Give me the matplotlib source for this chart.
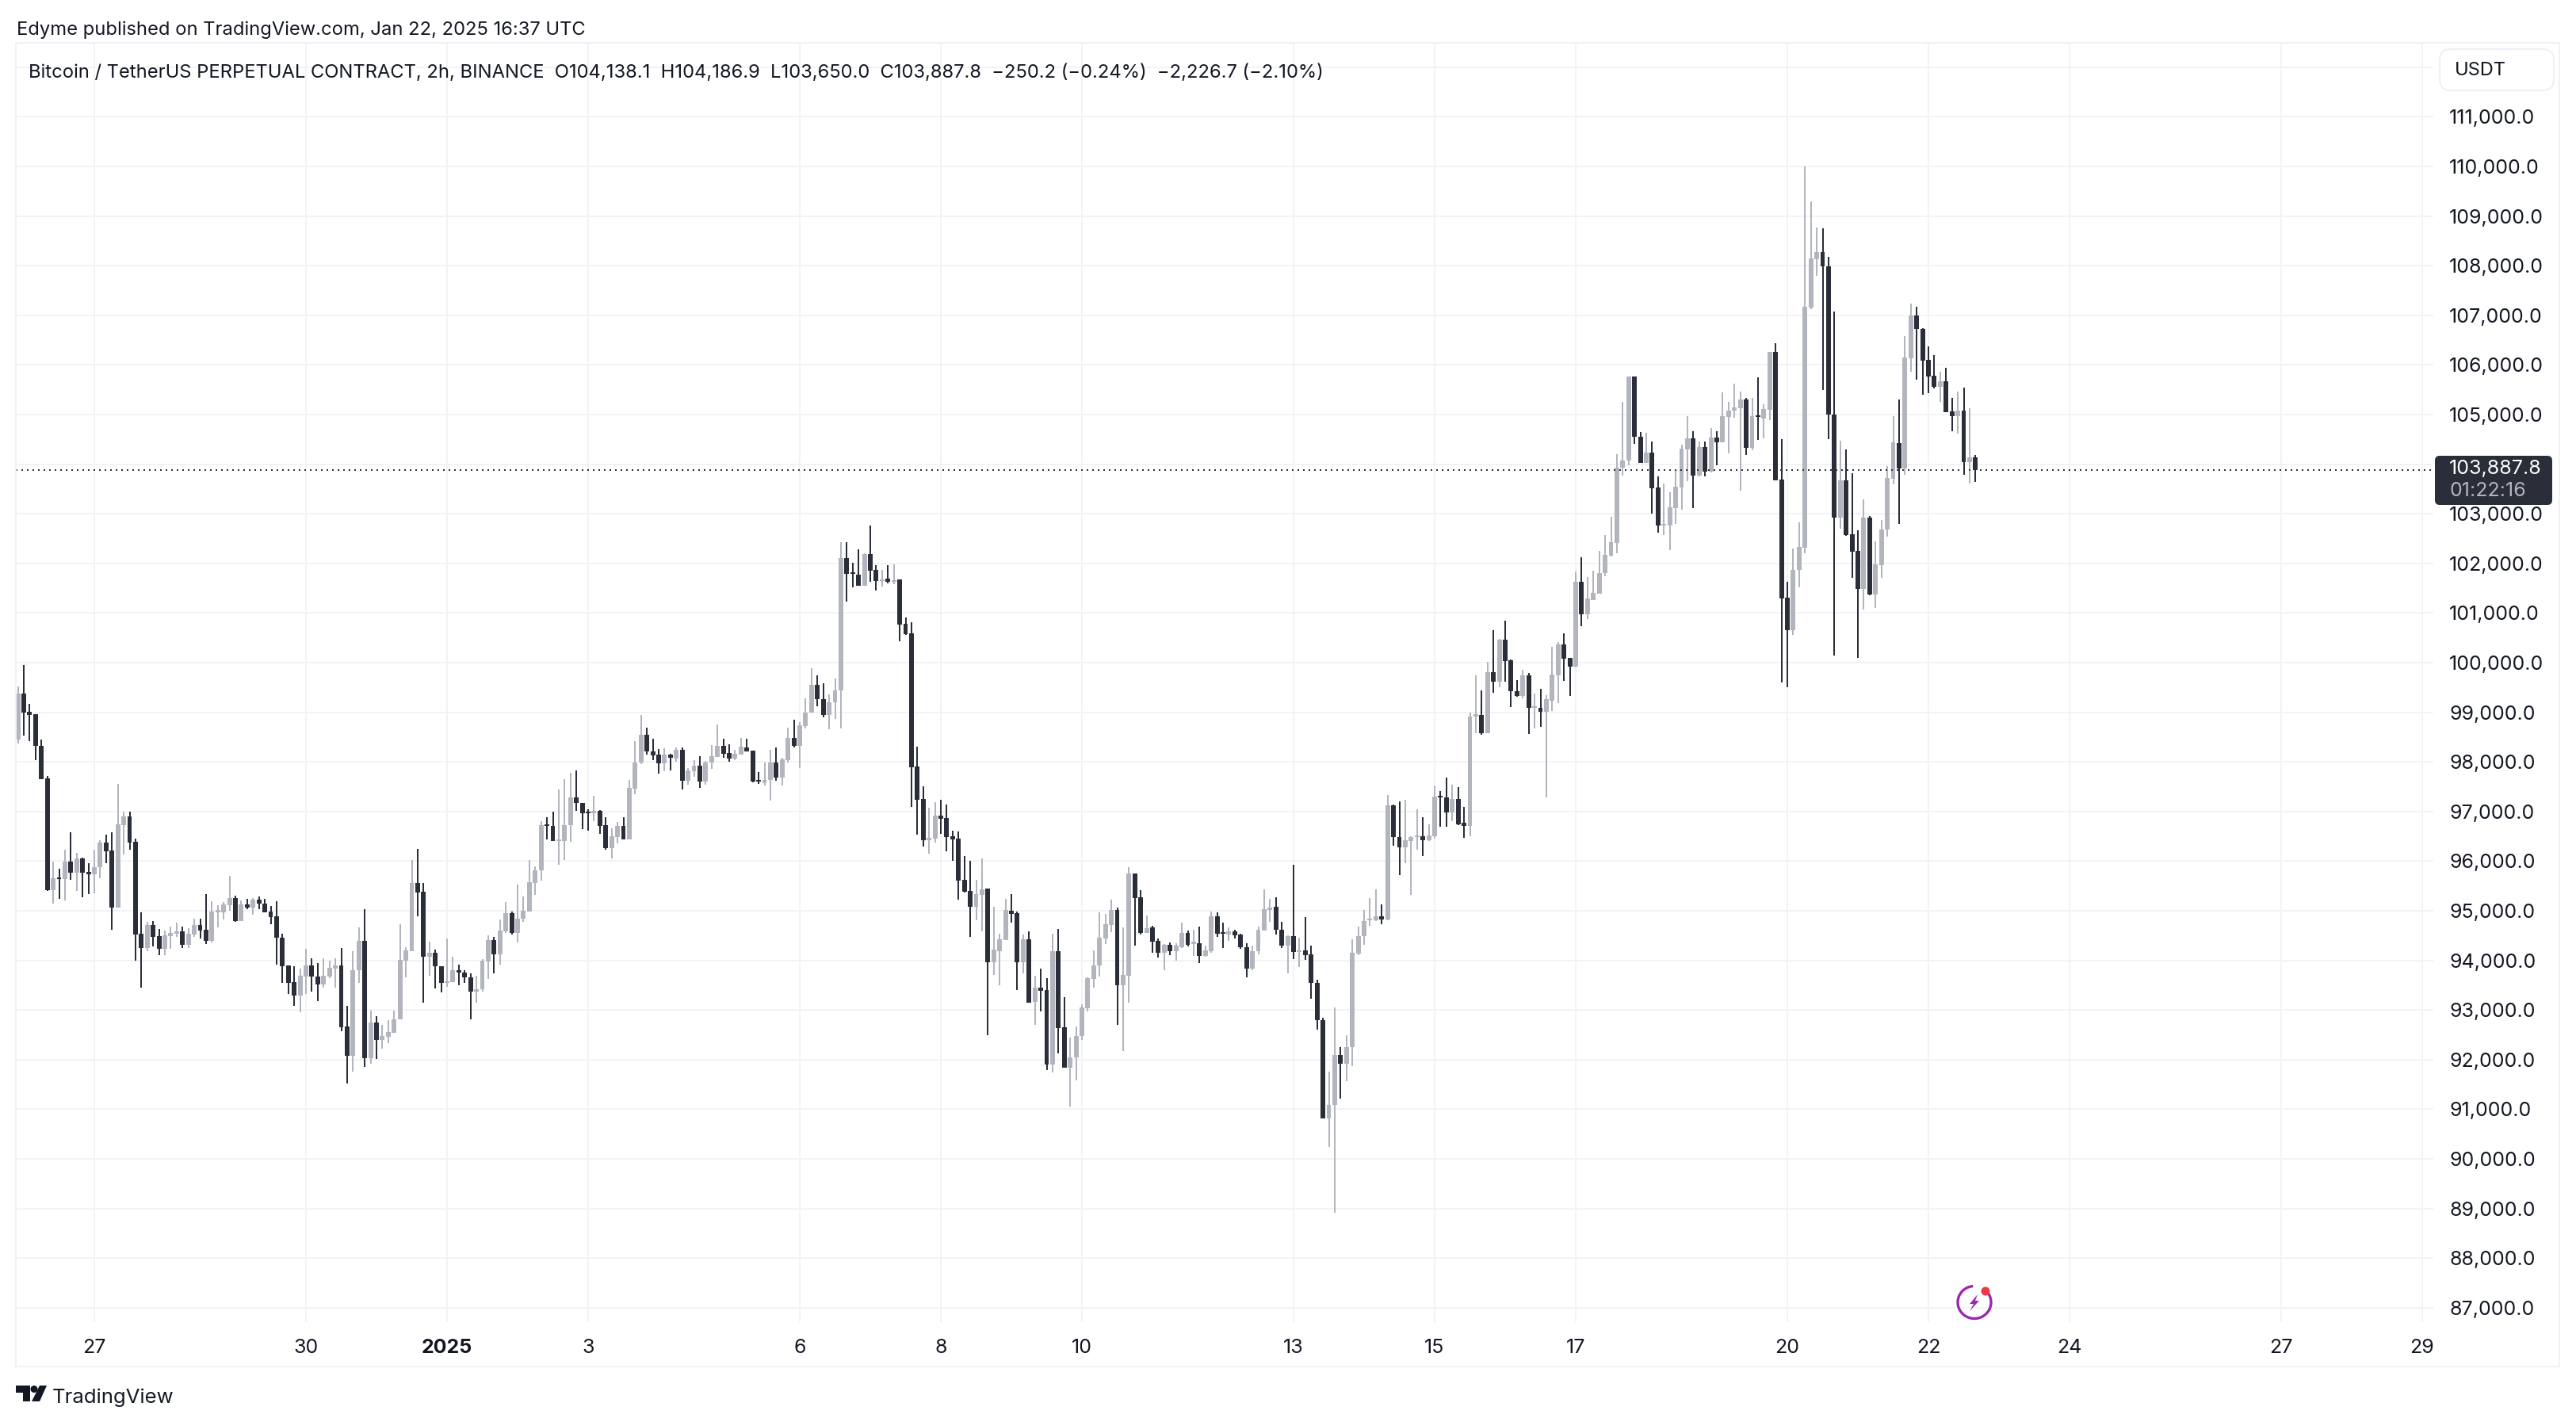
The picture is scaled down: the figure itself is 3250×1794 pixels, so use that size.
import matplotlib
matplotlib.use("Agg")
import matplotlib.pyplot as plt
import matplotlib.dates as mdates
from matplotlib.patches import Rectangle, FancyBboxPatch, Polygon, Circle, Arc
import numpy as np
import pandas as pd

plt.rcParams['font.family'] = ['Inter', 'DejaVu Sans']

# 2h candles, first one is Dec 25 22:00
opens = [
    98455, 99377, 99005, 98956, 98327, 97667, 95408, 95676, 95640, 95994,
    95762, 96055, 95786, 95737, 95872, 96379, 96220, 95066, 96727, 96904,
    96391, 94540, 94253, 94717, 94491, 94241, 94491, 94540, 94589, 94320,
    94528, 94717, 94620, 94400, 94974, 94974, 95115, 95261, 94797, 95127,
    95066, 95224, 95139, 94986, 94895, 94461, 93905, 93569, 93289, 93673,
    93905, 93673, 93521, 93673, 93838, 93905, 92660, 92073, 93795, 94400,
    92024, 92745, 92403, 92464, 92544, 92806, 93997, 94192, 95554, 95383,
    94070, 94149, 93887, 93539, 93570, 93808, 93753, 93661, 93368, 93417,
    93985, 94412, 94119, 94589, 94956, 94559, 94833, 94986, 95566, 95811,
    96739, 96714, 96409, 96409, 96721, 97288, 97166, 96977, 96959, 97014,
    96721, 96262, 96489, 96715, 96440, 97466, 97980, 98542, 98216, 98143,
    97971, 98143, 98061, 98240, 97613, 97809, 97923, 97597, 97980, 98102,
    98330, 98175, 98069, 98151, 98297, 98224, 97629, 97572, 97637, 97980,
    97678, 98029, 98477, 98322, 98721, 98998, 99553, 99267, 98941, 99202,
    99447, 102104, 101818, 101769, 101549, 102185, 101867, 101639, 101688, 101623,
    101672, 100775, 100588, 97906, 97246, 96415, 96456, 96912, 96863, 96496,
    96447, 95616, 95396, 95078, 95315, 95445, 93962, 94190, 94402, 95005,
    94956, 93962, 94418, 93163, 93456, 93399, 91900, 94182, 92649, 91835,
    92038, 92478, 93033, 93619, 93904, 94434, 94720, 95021, 93497, 93685,
    95747, 95265, 94549, 94662, 94385, 94149, 94312, 94182, 94271, 94557,
    94337, 94353, 94084, 94182, 94883, 94565, 94524, 94581, 94516, 94271,
    93839, 94182, 94597, 95019, 95080, 94613, 94293, 94492, 94163, 94206,
    94120, 93549, 92797, 90815, 91084, 92096, 91923, 92260, 94137, 94483,
    94803, 94803, 94881, 94820, 97121, 96490, 96274, 96412, 96481, 96499,
    96421, 96499, 97311, 97277, 96974, 97251, 96767, 96706, 98912, 98938,
    98575, 99803, 99613, 100460, 100045, 99431, 99327, 99751, 99085, 99094,
    99007, 99241, 99751, 100374, 100088, 99915, 101637, 100979, 101269, 101391,
    101798, 102164, 102408, 103930, 104076, 105769, 104556, 104019, 104231, 103523,
    102758, 102766, 103116, 103523, 104304, 104516, 103767, 104353, 103849, 104532,
    104434, 104947, 105077, 105134, 105297, 104336, 104971, 104914, 105101, 106257,
    103686, 101310, 100659, 101863, 102319, 107152, 108137, 108267, 107982, 104996,
    102921, 103669, 102587, 102254, 101489, 102921, 101367, 101960, 102677, 103710,
    104418, 103913, 106135, 106989, 106729, 106110, 105777, 105565, 105671, 105061,
    104963, 105085, 104036, 104138.1,
]
closes = [
    99377, 98998, 98950, 98315, 97655, 95408, 95658, 95640, 95994, 95762,
    96055, 95768, 95737, 95884, 96379, 96201, 95060, 96745, 96904, 96379,
    94528, 94253, 94717, 94479, 94241, 94510, 94559, 94589, 94320, 94540,
    94717, 94607, 94400, 94986, 95011, 95127, 95261, 94797, 95127, 95066,
    95231, 95139, 94974, 94876, 94449, 93887, 93551, 93289, 93692, 93905,
    93667, 93521, 93692, 93856, 93905, 92647, 92073, 93808, 94400, 92024,
    92745, 92391, 92476, 92555, 92818, 94009, 94198, 95554, 95371, 94070,
    94149, 93875, 93539, 93582, 93808, 93747, 93655, 93368, 93417, 93997,
    94412, 94119, 94607, 94956, 94559, 94846, 95005, 95579, 95811, 96727,
    96714, 96409, 96434, 96727, 97288, 97166, 96959, 96959, 97014, 96714,
    96256, 96501, 96715, 96440, 97472, 97980, 98542, 98208, 98126, 97971,
    98143, 98077, 98240, 97613, 97825, 97923, 97597, 97980, 98110, 98330,
    98159, 98061, 98159, 98306, 98208, 97597, 97597, 97637, 97980, 97678,
    98045, 98477, 98322, 98738, 98998, 99553, 99267, 98941, 99202, 99447,
    102104, 101794, 101786, 101549, 102185, 101851, 101639, 101680, 101623, 101663,
    100767, 100571, 97898, 97230, 96415, 96472, 96912, 96847, 96480, 96431,
    95600, 95380, 95078, 95331, 95437, 93962, 94214, 94418, 95013, 94932,
    93962, 94418, 93146, 93456, 93383, 91900, 94182, 92633, 91835, 92046,
    92478, 93049, 93636, 93904, 94451, 94728, 95021, 93497, 93701, 95747,
    95249, 94557, 94654, 94377, 94149, 94312, 94182, 94296, 94557, 94312,
    94377, 94084, 94198, 94883, 94532, 94532, 94581, 94500, 94271, 93839,
    94190, 94614, 95029, 95071, 94613, 94293, 94492, 94163, 94206, 94103,
    93540, 92788, 90815, 91092, 92096, 91923, 92260, 94155, 94492, 94795,
    94838, 94881, 94820, 97121, 96481, 96274, 96421, 96481, 96516, 96421,
    96516, 97294, 97277, 96974, 97251, 96749, 96706, 98912, 98955, 98575,
    99803, 99613, 100460, 100028, 99422, 99327, 99751, 99085, 99120, 99007,
    99258, 99768, 100374, 100080, 99915, 101637, 100979, 101291, 101407, 101806,
    102180, 102424, 103930, 104076, 105769, 104556, 104019, 104231, 103507, 102758,
    102790, 103124, 103539, 104320, 104516, 103767, 104353, 103849, 104532, 104434,
    104963, 105085, 105150, 105297, 104336, 104963, 104947, 105118, 106257, 103669,
    101293, 100659, 101863, 102327, 107176, 108153, 108267, 107982, 104996, 102921,
    103669, 102571, 102237, 101489, 102921, 101367, 101977, 102677, 103718, 104434,
    103913, 106143, 106989, 106721, 106094, 105761, 105565, 105671, 105044, 104963,
    105085, 104036, 104133, 103887.8,
]
highs = [
    99524, 99951, 99170, 98956, 98443, 97716, 95994, 95853, 96232, 96586,
    96171, 96073, 95951, 96226, 96427, 96537, 96586, 97563, 97001, 97001,
    96452, 94974, 94772, 94797, 94638, 94608, 94687, 94766, 94687, 94650,
    94846, 94846, 95340, 95194, 95115, 95182, 95707, 95310, 95200, 95243,
    95249, 95292, 95243, 95102, 95194, 94540, 93905, 93887, 93826, 94241,
    94040, 93948, 94040, 93997, 94040, 94253, 93081, 94192, 94669, 95029,
    92995, 92879, 92696, 92800, 92995, 94736, 94265, 96024, 96250, 95554,
    94375, 94217, 93887, 94443, 94070, 93918, 93795, 93734, 93692, 94027,
    94497, 94479, 94827, 95169, 94986, 95530, 95292, 96024, 95890, 96800,
    96879, 97001, 97441, 97655, 97777, 97832, 97166, 97044, 97319, 97032,
    96879, 96666, 96788, 96879, 97630, 98412, 98941, 98697, 98469, 98257,
    98273, 98159, 98297, 98297, 97874, 98029, 98110, 98012, 98338, 98754,
    98461, 98355, 98248, 98485, 98461, 98224, 97792, 97980, 98240, 98289,
    98077, 98689, 98844, 98795, 99275, 99887, 99740, 99585, 99365, 99675,
    102430, 102430, 102014, 102291, 102201, 102756, 101965, 101875, 101965, 101973,
    101672, 100905, 100816, 98306, 97507, 97075, 97181, 97230, 97140, 96610,
    96594, 96097, 96000, 95616, 96048, 95445, 95078, 94540, 95241, 95339,
    94989, 94516, 94581, 93685, 93831, 93636, 94532, 94638, 93253, 92437,
    92666, 93114, 93660, 94198, 94964, 94940, 95225, 95070, 94663, 95877,
    95747, 95412, 94899, 94703, 94443, 94337, 94361, 94353, 94760, 94597,
    94621, 94679, 94296, 94980, 94972, 94760, 94662, 94614, 94540, 94353,
    94296, 94679, 95437, 95244, 95270, 94769, 94509, 95928, 94449, 94872,
    94293, 93618, 92840, 91758, 93056, 92260, 92493, 94423, 94682, 95020,
    95253, 95435, 95123, 97338, 97147, 97208, 97234, 96499, 97044, 96879,
    96741, 97519, 97407, 97684, 97537, 97494, 97087, 98990, 99742, 99440,
    100019, 100651, 100486, 100841, 100062, 99656, 99863, 99786, 99370, 99466,
    99344, 100313, 100417, 100599, 100088, 101836, 102130, 101732, 101855, 102254,
    102571, 102937, 104198, 105256, 105769, 105769, 104654, 104630, 104459, 103751,
    103604, 103433, 103865, 104385, 104963, 104670, 104459, 104459, 104735, 104662,
    105443, 105248, 105630, 105460, 105337, 105330, 105744, 105215, 106257, 106444,
    104499, 101635, 102294, 102823, 110000, 109300, 108771, 108755, 108185, 107071,
    104467, 104304, 103816, 102669, 103287, 102962, 102449, 102880, 103954, 104963,
    105297, 106574, 107242, 107176, 106745, 106371, 106192, 105858, 105940, 105329,
    105460, 105549, 105134, 104186.9,
]
lows = [
    98376, 98528, 98412, 98040, 97655, 95395, 95151, 95243, 95200, 95627,
    95401, 95273, 95340, 95353, 95658, 95951, 94620, 95060, 96134, 96226,
    93991, 93447, 94192, 94284, 94101, 94101, 94241, 94467, 94253, 94253,
    94467, 94436, 94327, 94357, 94669, 94821, 95005, 94772, 94797, 95029,
    94925, 95029, 94974, 94724, 93917, 93539, 93325, 93087, 92958, 93325,
    93368, 93185, 93447, 93643, 93447, 92574, 91517, 91762, 93539, 91853,
    91914, 92006, 92220, 92330, 92537, 92806, 93655, 94192, 94895, 93154,
    93685, 93429, 93350, 93460, 93569, 93502, 93551, 92806, 93154, 93368,
    93624, 93734, 93917, 94559, 94528, 94357, 94784, 94986, 95322, 95615,
    96440, 96409, 95921, 96024, 96385, 97014, 96653, 96617, 96800, 96556,
    96238, 96055, 96360, 96434, 96440, 97344, 97963, 98143, 98037, 97760,
    97816, 97833, 98004, 97442, 97540, 97694, 97474, 97540, 97866, 98094,
    98086, 98004, 98037, 98151, 98208, 97588, 97548, 97531, 97213, 97613,
    97523, 97980, 98289, 97882, 98681, 98990, 99121, 98901, 98656, 98860,
    98672, 101223, 101517, 101549, 101549, 101631, 101452, 101533, 101598, 101582,
    100425, 100563, 97091, 96529, 96293, 96146, 96374, 96553, 96195, 96007,
    95217, 95364, 94475, 94801, 94581, 92487, 93701, 93497, 94402, 94761,
    93399, 93742, 93146, 92698, 92967, 91786, 91737, 92119, 91835, 91052,
    91582, 92389, 92967, 93456, 93676, 94337, 94573, 92698, 92169, 93146,
    94296, 94516, 94549, 94149, 94051, 93799, 94100, 93986, 94255, 94288,
    94092, 93945, 94068, 94149, 94475, 94247, 94394, 94434, 94231, 93660,
    93799, 94124, 94597, 94769, 94526, 94250, 93731, 94033, 93860, 94016,
    93220, 92598, 90815, 90245, 88921, 91214, 91559, 91871, 94103, 94310,
    94699, 94786, 94725, 94812, 96308, 95720, 95954, 95313, 96230, 96109,
    96412, 96455, 96689, 96689, 96801, 96723, 96464, 96499, 98575, 98549,
    98575, 99396, 99500, 99613, 99102, 99310, 99275, 98557, 98670, 98704,
    97286, 99024, 99189, 99639, 99327, 99898, 100728, 100884, 101269, 101391,
    101749, 102148, 102204, 103775, 103978, 104402, 104019, 104019, 103002, 102620,
    102571, 102262, 102799, 103083, 103653, 103116, 103759, 103759, 103832, 103970,
    104434, 104215, 104931, 103466, 104182, 104279, 104483, 104524, 104882, 103669,
    99601, 99503, 100561, 101513, 102205, 107128, 107803, 105500, 104499, 100146,
    102693, 102555, 101708, 100098, 101065, 101350, 101106, 101716, 102546, 103588,
    102791, 103791, 105858, 105704, 105403, 105435, 105525, 105256, 105044, 104662,
    104613, 103783, 103605, 103650.0,
]

last_price = 103887.8
price_ticks = list(range(87000, 113000, 1000))
date_ticks = ["2024-12-27", "2024-12-30", "2025-01-01", "2025-01-03", "2025-01-06",
              "2025-01-08", "2025-01-10", "2025-01-13", "2025-01-15", "2025-01-17",
              "2025-01-20", "2025-01-22", "2025-01-24", "2025-01-27", "2025-01-29"]
date_labels = ["27", "30", "2025", "3", "6", "8", "10", "13", "15", "17", "20", "22", "24", "27", "29"]

W, H = 3250, 1794
PX_PER_DAY = 89.0
PX_PER_PRICE = 0.0626
DARK = "#2a2e39"
GRAY = "#b2b5be"
GRID = "#f3f3f5"
BORDER = "#f0f0f5"
TEXT = "#131722"
FONT = 17.1
AXIS_FONT = 18.0


def draw_candles(ax):
    times = pd.date_range("2024-12-25 22:00", periods=len(opens), freq="2h")
    x = mdates.date2num(times)
    o = np.array(opens)
    c = np.array(closes)
    colors = [DARK if c[i] < o[i] else GRAY for i in range(len(o))]
    ax.vlines(x, lows, highs, colors=colors, linewidth=2 * 72 / 100, zorder=3)
    # doji bodies still show about 2 pixels
    height = np.maximum(np.abs(c - o), 2 / PX_PER_PRICE)
    ax.bar(x, height, bottom=np.minimum(o, c), width=6 / PX_PER_DAY, color=colors,
           linewidth=0, zorder=4)


def setup_axis(ax):
    day0 = mdates.date2num(pd.Timestamp("2024-12-27"))
    ax.set_xlim(day0 - (119 - 20) / PX_PER_DAY, day0 + (3070 - 119) / PX_PER_DAY)
    ax.set_ylim(105000 - (1668 - 523) / PX_PER_PRICE, 105000 + (523 - 54) / PX_PER_PRICE)

    ax.set_xticks(mdates.date2num(pd.to_datetime(date_ticks)))
    ax.set_xticklabels(date_labels, fontsize=AXIS_FONT, color=TEXT)
    for label in ax.get_xticklabels():
        if label.get_text() == "2025":
            label.set_fontweight("bold")
    ax.set_yticks(price_ticks)
    ax.set_yticklabels(["" if v == 112000 else "{:,.1f}".format(v) for v in price_ticks],
                       fontsize=AXIS_FONT, color=TEXT)
    ax.yaxis.tick_right()
    ax.tick_params(axis="x", length=0, pad=15)
    ax.tick_params(axis="y", length=0, pad=14.4)
    ax.grid(True, color=GRID, linewidth=2 * 72 / 100, zorder=0)
    ax.set_axisbelow(True)
    for spine in ax.spines.values():
        spine.set_visible(False)
    ax.axhline(last_price, color=DARK, linewidth=2 * 72 / 100, linestyle=(0, (1, 2.5)), zorder=5)


def draw_chrome(ov):
    # everything around the plot, in picture pixels
    ov.add_patch(Rectangle((20, 54), 3209, 1670, fill=False, edgecolor=BORDER, linewidth=2 * 72 / 100))
    ov.text(21, 38, "Edyme published on TradingView.com, Jan 22, 2025 16:37 UTC",
            fontsize=FONT, color=TEXT, va="center")
    ov.text(36, 92, "Bitcoin / TetherUS PERPETUAL CONTRACT, 2h, BINANCE  O104,138.1  H104,186.9  "
            "L103,650.0  C103,887.8  \u2212250.2 (\u22120.24%)  \u22122,226.7 (\u22122.10%)",
            fontsize=FONT, color=TEXT, va="center")

    # USDT button
    ov.add_patch(FancyBboxPatch((3078, 62), 144, 52, boxstyle="round,pad=0,rounding_size=14",
                                facecolor="white", edgecolor=BORDER, linewidth=1.5))
    ov.text(3097, 89, "USDT", fontsize=17.0, color=TEXT, va="center")

    # last price box
    ov.add_patch(FancyBboxPatch((3076, 579), 140, 54, boxstyle="round,pad=4,rounding_size=6",
                                facecolor=DARK, edgecolor="none", zorder=6))
    ov.text(3090, 592, "103,887.8", fontsize=AXIS_FONT, color="white", va="center", zorder=7)
    ov.text(3090, 620, "01:22:16", fontsize=AXIS_FONT, color=GRAY, va="center", zorder=7)

    # TradingView logo
    logo = "#131722"
    ov.add_patch(Polygon([(20, 1748), (38, 1748), (38, 1768), (29, 1768), (29, 1757), (20, 1757)],
                         facecolor=logo, edgecolor="none"))
    ov.add_patch(Circle((43, 1752.5), 4.5, facecolor=logo, edgecolor="none"))
    ov.add_patch(Polygon([(50, 1748), (59, 1748), (50, 1768), (40, 1768)],
                         facecolor=logo, edgecolor="none"))
    ov.text(66, 1763, "TradingView", fontsize=18.5, color=TEXT, va="center")

    # bolt icon
    purple = "#9c27b0"
    ov.add_patch(Arc((2491, 1643), 42, 41, theta1=-55, theta2=265, edgecolor=purple, linewidth=2.4, zorder=8))
    ov.add_patch(Polygon([(2495, 1633), (2485, 1645), (2490, 1645), (2485, 1654),
                          (2497, 1641), (2492, 1641)], facecolor=purple, edgecolor="none", zorder=8))
    ov.add_patch(Circle((2505, 1629), 5.5, facecolor="#f23645", edgecolor="none", zorder=9))


def main():
    fig = plt.figure(figsize=(W / 100, H / 100), dpi=100, facecolor="white")
    ax = fig.add_axes([20 / W, 1 - 1668 / H, (3070 - 20) / W, (1668 - 54) / H])
    setup_axis(ax)
    draw_candles(ax)

    ov = fig.add_axes([0, 0, 1, 1], facecolor="none")
    ov.set_xlim(0, W)
    ov.set_ylim(H, 0)
    ov.axis("off")
    draw_chrome(ov)

    fig.savefig("out.png", dpi=100)
    return 0


if __name__ == "__main__":
    main()
